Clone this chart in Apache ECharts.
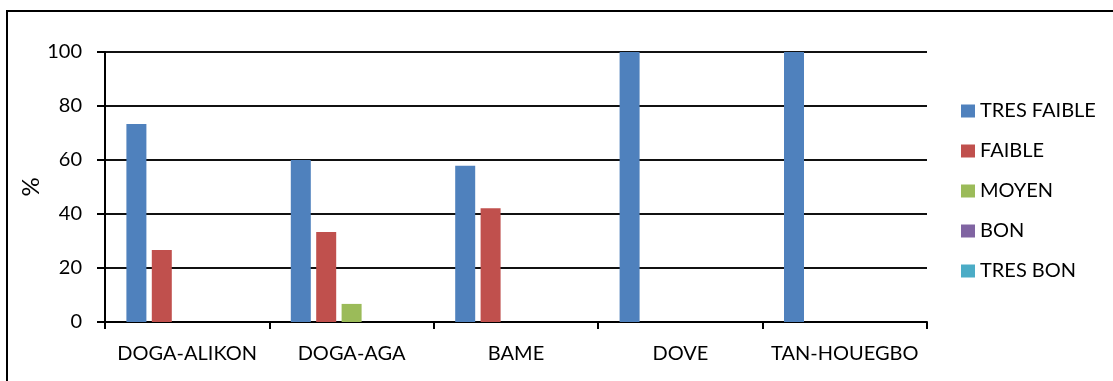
<!DOCTYPE html>
<html>
<head>
<meta charset="utf-8">
<script src="https://cdn.jsdelivr.net/npm/echarts@6/dist/echarts.min.js"></script>
<style>
  html, body { margin: 0; padding: 0; background: #fff; }
  #chart { width: 1113px; height: 381px; }
</style>
</head>
<body>
<div id="chart"></div>
<script>
// Villages surveyed
const categories = ['DOGA-ALIKON', 'DOGA-AGA', 'BAME', 'DOVE', 'TAN-HOUEGBO'];

// Share of answers (%) per rating level
const tresFaible = [73.3, 60.0, 57.9, 100, 100];
const faible     = [26.7, 33.3, 42.1, 0, 0];
const moyen      = [0, 6.7, 0, 0, 0];
const bon        = [0, 0, 0, 0, 0];
const tresBon    = [0, 0, 0, 0, 0];

const yTicks = [0, 20, 40, 60, 80, 100];

const seriesDefs = [
  { name: 'TRES FAIBLE', data: tresFaible, color: '#4F81BD' },
  { name: 'FAIBLE',      data: faible,     color: '#C0504D' },
  { name: 'MOYEN',       data: moyen,      color: '#9BBB59' },
  { name: 'BON',         data: bon,        color: '#8064A2' },
  { name: 'TRES BON',    data: tresBon,    color: '#4BACC6' }
];

const FONT = 'Lato, "Open Sans", sans-serif';

const chart = echarts.init(document.getElementById('chart'), null, { renderer: 'canvas' });

chart.setOption({
  animation: false,
  backgroundColor: '#ffffff',
  textStyle: { fontFamily: FONT, color: '#000' },
  graphic: [{
    type: 'rect',
    shape: { x: 7, y: 11, width: 1300, height: 600 },
    style: { fill: 'none', stroke: '#000', lineWidth: 2 },
    silent: true
  }],
  grid: { left: 105, right: 186, top: 52, bottom: 59, containLabel: false },
  legend: {
    orient: 'vertical',
    left: 956,
    top: 96,
    icon: 'rect',
    itemWidth: 14,
    itemHeight: 13,
    itemGap: 20,
    textStyle: { fontFamily: FONT, fontSize: 20, color: '#000', lineHeight: 20 },
    data: seriesDefs.map(s => s.name)
  },
  xAxis: {
    type: 'category',
    data: categories,
    axisLine: { lineStyle: { color: '#000', width: 2 } },
    axisTick: { show: true, length: 7, lineStyle: { color: '#000', width: 2 } },
    axisLabel: { interval: 0, fontFamily: FONT, fontSize: 20, color: '#000', margin: 22 }
  },
  yAxis: {
    type: 'value',
    min: yTicks[0],
    max: yTicks[yTicks.length - 1],
    interval: yTicks[1] - yTicks[0],
    name: '%',
    nameLocation: 'middle',
    nameRotate: 90,
    nameGap: 62,
    nameMoveOverlap: false,
    nameTextStyle: { fontFamily: FONT, fontSize: 24, color: '#000' },
    axisLine: { show: true, lineStyle: { color: '#000', width: 2 } },
    axisTick: { show: true, length: 8, lineStyle: { color: '#000', width: 2 } },
    axisLabel: { fontFamily: FONT, fontSize: 20, color: '#000', margin: 23 },
    splitLine: { show: true, lineStyle: { color: '#111', width: 2 } }
  },
  series: seriesDefs.map(s => ({
    type: 'bar',
    name: s.name,
    data: s.data,
    barWidth: 20,
    barGap: '27%',
    itemStyle: { color: s.color }
  }))
});
</script>
</body>
</html>
